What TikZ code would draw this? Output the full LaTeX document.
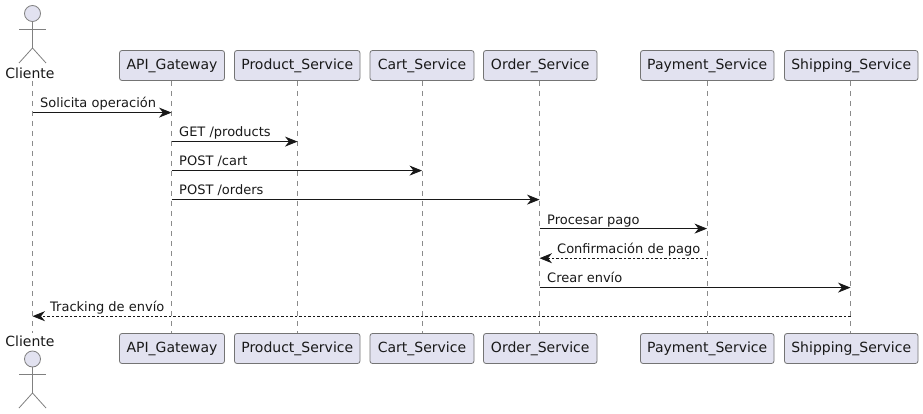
\documentclass[tikz,border=0pt]{standalone}
\usepackage{fontspec}
\setmainfont{DejaVu Sans}
\usetikzlibrary{arrows.meta}
\definecolor{pfill}{HTML}{E2E2F0}
\definecolor{pline}{HTML}{181818}
\tikzset{
  x=1pt,y=-1pt,
  party/.style={draw=pline!60,line width=.8pt,fill=pfill,rounded corners=2.5pt,minimum height=30pt,inner sep=0pt,font=\fontsize{14}{16}\selectfont,text=black!90,anchor=center},
  lifeline/.style={draw=pline!50,line width=.7pt,dash pattern=on 5pt off 5pt},
  actorpart/.style={draw=pline!55,line width=.8pt},
  actorhead/.style={draw=pline!55,line width=.8pt,fill=pfill,circle,minimum size=16pt,inner sep=0pt},
  actorlabel/.style={font=\fontsize{14}{16}\selectfont,text=black!90,inner sep=0pt},
  msg/.style={draw=pline,line width=.9pt,-{Stealth[length=12.5pt,width=10pt,inset=4pt]}},
  reply/.style={msg,dash pattern=on 2.5pt off 2pt},
  msglabel/.style={font=\fontsize{13}{15}\selectfont,text=black!90,inner sep=0pt,anchor=base west},
}
\begin{document}
\begin{tikzpicture}
\useasboundingbox (0,0) rectangle (923,414);
\fill[white] (0,0) rectangle (923,414);
% lifeline ends
\node[actorlabel] (clienteT) at (30,73) {Cliente};
\node[actorlabel] (clienteB) at (30,341) {Cliente};
\coordinate (cT) at (32.5,81);
\coordinate (cB) at (32.5,333);
\coordinate (gT) at (171.5,81);
\coordinate (gB) at (171.5,333);
\coordinate (prT) at (297.5,81);
\coordinate (prB) at (297.5,333);
\coordinate (caT) at (422,81);
\coordinate (caB) at (422,333);
\coordinate (oT) at (539.5,81);
\coordinate (oB) at (539.5,333);
\coordinate (paT) at (707,81);
\coordinate (paB) at (707,333);
\coordinate (sT) at (850.5,81);
\coordinate (sB) at (850.5,333);
\foreach \a/\b in {cT/cB,gT/gB,prT/prB,caT/caB,oT/oB,paT/paB,sT/sB} \draw[lifeline] (\a) -- (\b);
% participants
\node[party,minimum width=105pt] (gateway) at (172,65.5) {API\_Gateway};
\node[party,minimum width=125.5pt] (product) at (297.25,65.5) {Product\_Service};
\node[party,minimum width=104pt] (cart) at (422,65.5) {Cart\_Service};
\node[party,minimum width=113.5pt] (order) at (540.25,65.5) {Order\_Service};
\node[party,minimum width=133.5pt] (payment) at (707.25,65.5) {Payment\_Service};
\node[party,minimum width=133.5pt] (shipping) at (851.25,65.5) {Shipping\_Service};
\node[party,minimum width=105pt] (gatewayB) at (172,348.5) {API\_Gateway};
\node[party,minimum width=125.5pt] (productB) at (297.25,348.5) {Product\_Service};
\node[party,minimum width=104pt] (cartB) at (422,348.5) {Cart\_Service};
\node[party,minimum width=113.5pt] (orderB) at (540.25,348.5) {Order\_Service};
\node[party,minimum width=133.5pt] (paymentB) at (707.25,348.5) {Payment\_Service};
\node[party,minimum width=133.5pt] (shippingB) at (851.25,348.5) {Shipping\_Service};
% actors
\node[actorhead] (headT) at (32.5,13.5) {};
\coordinate (hipT) at (32.5,48);
\draw[actorpart] (headT) -- (hipT);
\draw[actorpart] (19,29) -- (46,29);
\draw[actorpart] (19,63) -- (hipT) -- (46,63);
\node[actorhead] (headB) at (32.5,359) {};
\coordinate (hipB) at (32.5,393);
\draw[actorpart] (headB) -- (hipB);
\draw[actorpart] (19,374) -- (46,374);
\draw[actorpart] (19,408) -- (hipB) -- (46,408);
% messages
\draw[msg] (cT |- 0,112.6) -- (gT |- 0,112.6);
\node[msglabel] at (40,107.6) {Solicita operación};
\draw[msg] (gT |- 0,141.6) -- (prT |- 0,141.6);
\node[msglabel] at (179,136.6) {GET /products};
\draw[msg] (gT |- 0,170.6) -- (caT |- 0,170.6);
\node[msglabel] at (179,165.6) {POST /cart};
\draw[msg] (gT |- 0,199.6) -- (oT |- 0,199.6);
\node[msglabel] at (179,194.6) {POST /orders};
\draw[msg] (oT |- 0,228.6) -- (paT |- 0,228.6);
\node[msglabel] at (547,224) {Procesar pago};
\draw[reply] (paT |- 0,258.2) -- (oT |- 0,258.2);
\node[msglabel] at (557,253) {Confirmación de pago};
\draw[msg] (oT |- 0,287.6) -- (sT |- 0,287.6);
\node[msglabel] at (547,282.6) {Crear envío};
\draw[reply] (sT |- 0,316.2) -- (cT |- 0,316.2);
\node[msglabel] at (50,311) {Tracking de envío};
\end{tikzpicture}
\end{document}
